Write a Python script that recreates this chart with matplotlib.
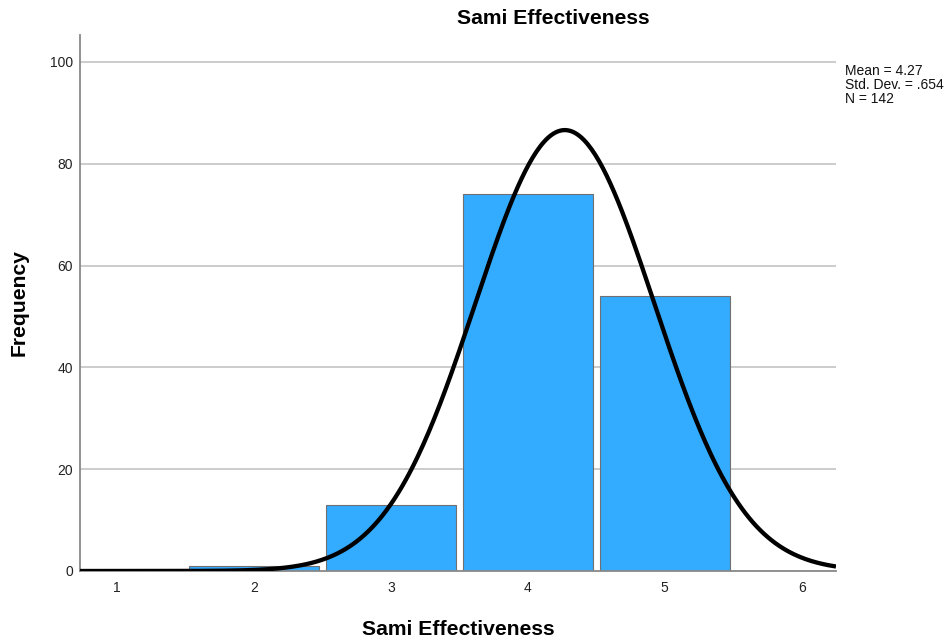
import numpy as np
import matplotlib
matplotlib.use("Agg")
import matplotlib.pyplot as plt

plt.rcParams['font.family'] = ['Liberation Sans', 'DejaVu Sans']

# Frequency table for the Sami Effectiveness ratings
ratings = [2, 3, 4, 5]
counts = [1, 13, 74, 54]
mean_val = 4.27
std_val = 0.654
n_obs = 142
x_ticks = [1, 2, 3, 4, 5, 6]
y_ticks = [0, 20, 40, 60, 80, 100]

fig = plt.figure(figsize=(9.52, 6.41), dpi=100)
ax = fig.add_axes([80/952, 1 - 571/641, (836 - 80)/952, (571 - 35)/641])

ax.set_xlim(0.73, 6.25)
ax.set_ylim(0, 105.3)

for yv in y_ticks[1:]:
    ax.axhline(yv, color='#c8c8c8', lw=1.3, zorder=0)

ax.bar(ratings, counts, width=0.95, color='#33abfe', edgecolor='#707070',
       linewidth=0.8, zorder=2)

# Normal curve scaled to the histogram (bin width 1)
xs = np.linspace(0.73, 6.25, 400)
ys = n_obs * 1.0 / (std_val * np.sqrt(2 * np.pi)) * np.exp(-0.5 * ((xs - mean_val) / std_val) ** 2)
ax.plot(xs, ys, color='black', lw=3.1, zorder=3, solid_capstyle='butt')

for side in ['top', 'right']:
    ax.spines[side].set_visible(False)
ax.spines['left'].set_color('#888888')
ax.spines['bottom'].set_color('#888888')
ax.spines['left'].set_linewidth(1.3)
ax.spines['bottom'].set_linewidth(1.3)

ax.set_xticks(x_ticks)
ax.set_yticks(y_ticks)
ax.tick_params(axis='both', length=0, labelsize=10, colors='#222222')
ax.tick_params(axis='y', pad=5)
ax.tick_params(axis='x', pad=7)

ax.set_xlabel('Sami Effectiveness', fontsize=15.2, fontweight='bold', labelpad=18)
ax.set_ylabel('Frequency', fontsize=15.2, fontweight='bold', labelpad=15)
fig.text(553/952, 1 - 18/641, 'Sami Effectiveness', fontsize=15.2,
         fontweight='bold', ha='center', va='center')

fig.text(845/952, 1 - 64/641, f'Mean = {mean_val}\nStd. Dev. = .654\nN = {n_obs}',
         fontsize=10, va='top', ha='left', linespacing=1.0, color='#111111')

fig.savefig('out.png', dpi=100)
